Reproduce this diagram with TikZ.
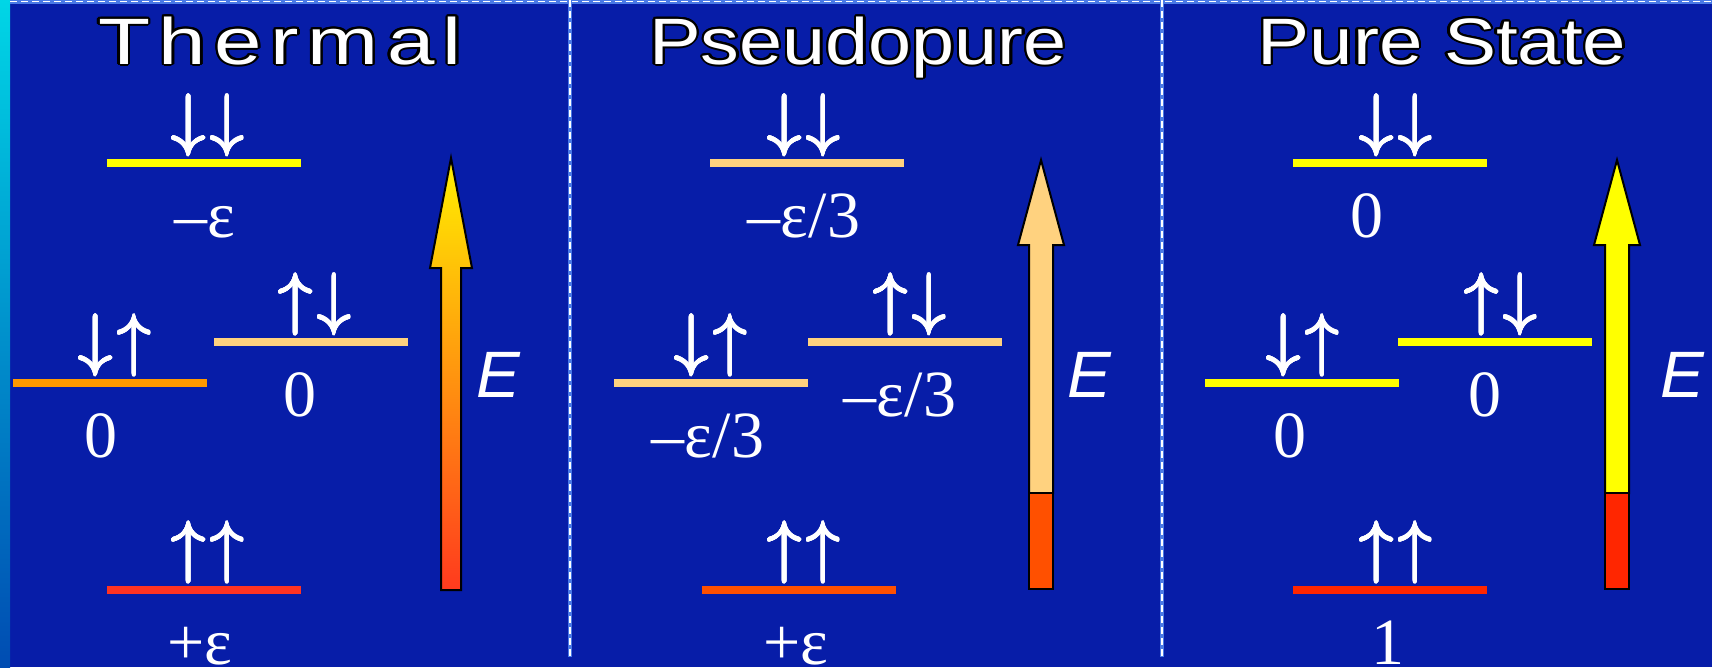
\documentclass[tikz,border=0pt]{standalone}
\usepackage{fix-cm}
\usepackage{fontspec}
\setmainfont{Liberation Serif}
\newfontfamily\titlefont{Liberation Sans}
\newfontfamily\titlewide[LetterSpace=10]{Liberation Sans}
\usepackage{graphicx}
\usepackage{contour}
\contourlength{2pt}
\usepackage{tikz}
\usetikzlibrary{positioning}

\definecolor{slidebg}{RGB}{7,29,168}
\definecolor{stripTop}{RGB}{0,214,230}
\definecolor{stripBot}{RGB}{0,76,178}
\definecolor{divline}{RGB}{74,122,230}
\definecolor{lvyellow}{RGB}{255,255,0}
\definecolor{lvorange}{RGB}{255,153,0}
\definecolor{lvpale}{RGB}{255,210,127}
\definecolor{lvred}{RGB}{255,51,34}
\definecolor{lvredorange}{RGB}{255,80,0}
\definecolor{lvpurered}{RGB}{255,38,0}
\definecolor{arrowtop}{RGB}{255,240,0}
\definecolor{arrowbot}{RGB}{255,58,30}

\newcommand{\spinpair}[2]{{\contourlength{0.7pt}\contour{white}{$#1\mkern1.2mu#2$}}}
\newcommand{\dd}{\spinpair{\downarrow}{\downarrow}}
\newcommand{\du}{\spinpair{\downarrow}{\uparrow}}
\newcommand{\ud}{\spinpair{\uparrow}{\downarrow}}
\newcommand{\uu}{\spinpair{\uparrow}{\uparrow}}

\begin{document}
\begin{tikzpicture}[
    x=1pt, y=-1pt,
    level/.style={
        rectangle,
        inner sep=0pt,
        minimum width=194pt,
        minimum height=8pt
    },
    spin/.style={inner sep=0pt, text=white, font=\fontsize{68.7}{80}\selectfont},
    val/.style={inner sep=0pt, text=white, font=\fontsize{66}{72}\selectfont,
        text height=45pt, text depth=0pt},
    head/.style={inner sep=0pt, text=white, anchor=base,
        font=\fontsize{65.6}{72}\selectfont\titlefont},
    elabel/.style={inner sep=0pt, text=white, anchor=base,
        font=\fontsize{65.6}{72}\selectfont\titlefont\itshape},
    bar/.style={draw=black, line width=2pt, line join=miter},
    divider/.style={divline, line width=4pt},
    dividerdash/.style={white, line width=1.6pt, dash pattern=on 7pt off 4pt}
]

\def\xa{451}
\def\xb{1041}
\def\xc{1617}

% Background
\useasboundingbox (0,0) rectangle (1712,667);
\fill[slidebg] (0,0) rectangle (1712,667);
\shade[top color=stripTop, bottom color=stripBot] (0,0) rectangle (10,667);

% Dividers
\draw[divider] (10,1.5) -- (1712,1.5);
\draw[dividerdash] (10,1.5) -- (1712,1.5);
\foreach \xd in {570,1162} {
    \draw[divider] (\xd,0) -- (\xd,657);
    \draw[dividerdash] (\xd,0) -- (\xd,657);
}

% Titles
\node[head] (thermal) at (280,64) {\scalebox{1.3}[1]{\titlewide\contour{black}{Thermal}}};
\node[head] (pseudo) at (858,64) {\scalebox{1.18}[1]{\contour{black}{Pseudopure}}};
\node[head] (pure) at (1442,64) {\scalebox{1.19}[1]{\contour{black}{Pure State}}};

% Thermal
\node[level, fill=lvyellow] (tdd) at (204,163) {};
\node[level, fill=lvorange] (tdu) at (110,383) {};
\node[level, fill=lvpale] (tud) at (311,342) {};
\node[level, fill=lvred] (tuu) at (204,590) {};

\node[spin, above=2pt of tdd, xshift=4pt] (tddS) {\dd};
\node[spin, above=2pt of tdu, xshift=5pt] (tduS) {\du};
\node[spin, above=2pt of tud, xshift=4pt] (tudS) {\ud};
\node[spin, above=2pt of tuu, xshift=4pt] (tuuS) {\uu};

\node[val, below=25pt of tdd, xshift=1pt] (tddV) {–ε};
\node[val, below=25pt of tdu, xshift=-9pt] (tduV) {0};
\node[val, below=25pt of tud, xshift=-11pt] (tudV) {0};
\node[val, below=25pt of tuu, xshift=-4pt] (tuuV) {+ε};

\shade[top color=arrowtop, bottom color=arrowbot, bar]
    (\xa,158) -- (\xa+21,268) -- (\xa+10,268) -- (\xa+10,590)
    -- (\xa-10,590) -- (\xa-10,268) -- (\xa-21,268) -- cycle;
\node[elabel] (tE) at (498,397) {E};

% Pseudopure
\node[level, fill=lvpale] (pdd) at (807,163) {};
\node[level, fill=lvpale] (pdu) at (711,383) {};
\node[level, fill=lvpale] (pud) at (905,342) {};
\node[level, fill=lvredorange] (puu) at (799,590) {};

\node[spin, above=2pt of pdd, xshift=-3pt] (pddS) {\dd};
\node[spin, above=2pt of pdu] (pduS) {\du};
\node[spin, above=2pt of pud, xshift=5pt] (pudS) {\ud};
\node[spin, above=2pt of puu, xshift=5pt] (puuS) {\uu};

\node[val, below=25pt of pdd, xshift=-3pt] (pddV) {–ε/3};
\node[val, below=25pt of pdu, xshift=-3pt] (pduV) {–ε/3};
\node[val, below=25pt of pud, xshift=-5pt] (pudV) {–ε/3};
\node[val, below=25pt of puu, xshift=-3pt] (puuV) {+ε};

\filldraw[bar, fill=lvpale]
    (\xb,160) -- (\xb+23,245) -- (\xb+12,245) -- (\xb+12,493)
    -- (\xb-12,493) -- (\xb-12,245) -- (\xb-23,245) -- cycle;
\filldraw[bar, fill=lvredorange] (\xb-12,493) rectangle (\xb+12,589);
\node[elabel] (pE) at (1089,397) {E};

% Pure State
\node[level, fill=lvyellow] (sdd) at (1390,163) {};
\node[level, fill=lvyellow] (sdu) at (1302,383) {};
\node[level, fill=lvyellow] (sud) at (1495,342) {};
\node[level, fill=lvpurered] (suu) at (1390,590) {};

\node[spin, above=2pt of sdd, xshift=6pt] (sddS) {\dd};
\node[spin, above=2pt of sdu, xshift=1pt] (sduS) {\du};
\node[spin, above=2pt of sud, xshift=6pt] (sudS) {\ud};
\node[spin, above=2pt of suu, xshift=6pt] (suuS) {\uu};

\node[val, below=25pt of sdd, xshift=-23pt] (sddV) {0};
\node[val, below=25pt of sdu, xshift=-12pt] (sduV) {0};
\node[val, below=25pt of sud, xshift=-10pt] (sudV) {0};
\node[val, below=25pt of suu, xshift=-2pt] (suuV) {1};

\filldraw[bar, fill=lvyellow]
    (\xc,160) -- (\xc+23,245) -- (\xc+12,245) -- (\xc+12,493)
    -- (\xc-12,493) -- (\xc-12,245) -- (\xc-23,245) -- cycle;
\filldraw[bar, fill=lvpurered] (\xc-12,493) rectangle (\xc+12,589);
\node[elabel] (sE) at (1682,397) {E};

\end{tikzpicture}
\end{document}
